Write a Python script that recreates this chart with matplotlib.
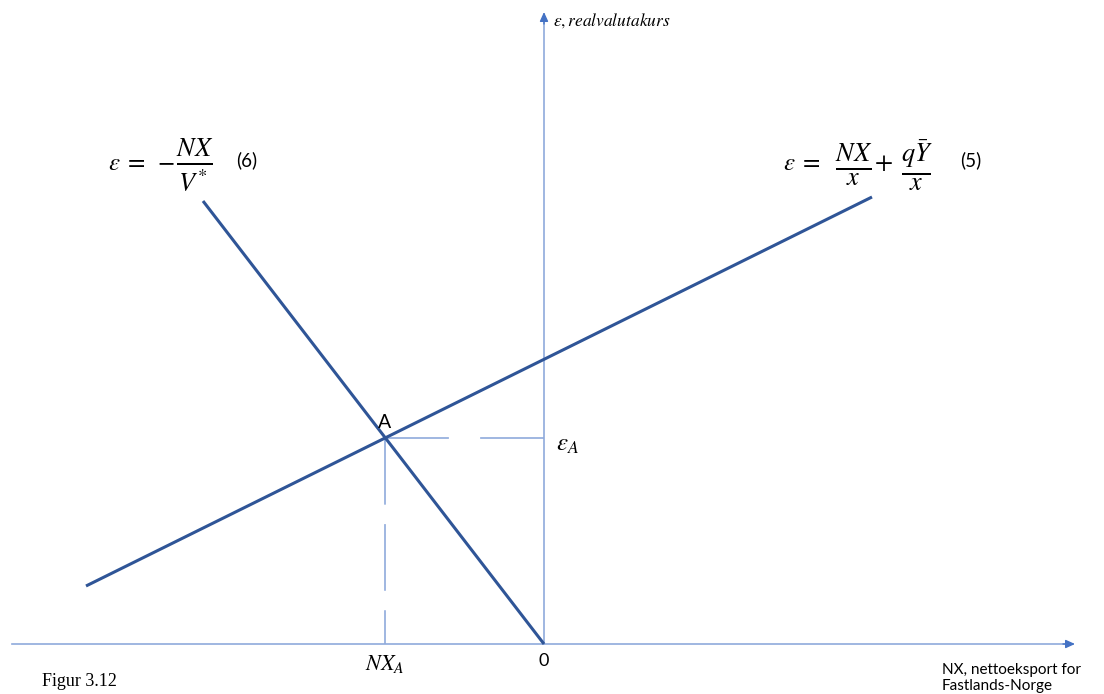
import numpy as np
from matplotlib import pyplot as plt

plt.rcParams['mathtext.fontset'] = 'stix'
plt.rcParams['lines.scale_dashes'] = False

# curve end points (NX, epsilon), origin at the axes crossing
nx6 = [-341, 0]        # (6) eps = -NX / V*
eps6 = [443, 0]
nx5 = [-458, 328]      # (5) eps = NX/x + qY/x
eps5 = [58, 447]

# equilibrium A
nx_a = -159
eps_a = 206

# axis extents (arrow tips)
x_axis = [-532, 531]
y_axis = [0, 632]

line_col = '#2f5597'
axis_col = '#8faadc'
arrow_col = '#4472c4'

fig = plt.figure(figsize=(11.04, 6.94), dpi=100)
ax = fig.add_axes([0, 0, 1, 1])
ax.set_xlim(-544, 560)
ax.set_ylim(-50, 644)
ax.axis('off')

# axes with arrow heads
ax.plot([x_axis[0], x_axis[1] - 6], [0, 0], color=axis_col, lw=1.2)
ax.plot([0, 0], [y_axis[0], y_axis[1] - 6], color=axis_col, lw=1.2)
head = dict(arrowstyle='-|>,head_length=0.55,head_width=0.25',
            color=arrow_col, lw=1.0, shrinkA=0, shrinkB=0)
ax.annotate('', xy=(x_axis[1], 0), xytext=(x_axis[1] - 12, 0),
            arrowprops=head)
ax.annotate('', xy=(0, y_axis[1]), xytext=(0, y_axis[1] - 12),
            arrowprops=head)

# dashed guides from A
ax.plot([nx_a, 0], [eps_a, eps_a], color=axis_col, lw=1.2,
        dashes=(46, 22.5))
ax.plot([nx_a, nx_a], [eps_a, 0], color=axis_col, lw=1.2,
        dashes=(48, 14))

# the two curves
ax.plot(nx6, eps6, color=line_col, lw=2.2, solid_capstyle='butt')
ax.plot(nx5, eps5, color=line_col, lw=2.2, solid_capstyle='butt')

# equation (6)
ax.text(-436, 481, r'$\varepsilon\;=\;-$', fontsize=18, ha='left', va='center')
ax.text(-349, 479, r'$\frac{NX}{V^{*}}$', fontsize=27, ha='center', va='center')
ax.text(-308, 484, '(6)', fontsize=13.5, family='Lato', ha='left', va='center')

# equation (5)
ax.text(239, 481, r'$\varepsilon\;=$', fontsize=18, ha='left', va='center')
ax.text(310, 479, r'$\frac{NX}{x}$', fontsize=27, ha='center', va='center')
ax.text(339, 481, r'$+$', fontsize=19, ha='center', va='center')
ax.text(373, 479, r'$\frac{q\bar{Y}}{x}$', fontsize=27,
        ha='center', va='center')
ax.text(416, 484, '(5)', fontsize=13.5, family='Lato', ha='left', va='center')

ax.text(nx_a - 7, eps_a + 16, 'A', fontsize=14, family='Lato',
        ha='left', va='center')
ax.text(12, eps_a - 6, r'$\varepsilon_A$', fontsize=18, ha='left', va='center')
ax.text(nx_a, -20, r'$NX_A$', fontsize=16, ha='center', va='center')
ax.text(0, -17, '0', fontsize=13, family='Lato', ha='center', va='center')
ax.text(398, -34, 'NX, nettoeksport for\nFastlands-Norge', fontsize=11,
        family='Lato', ha='left', va='center', linespacing=1.2)
ax.text(9, 623, r'$\varepsilon, realvalutakurs$', fontsize=12.5,
        ha='left', va='center')
ax.text(-502, -38, 'Figur 3.12', fontsize=13, family='Liberation Serif',
        ha='left', va='center')

fig.savefig('out.png', dpi=100)
